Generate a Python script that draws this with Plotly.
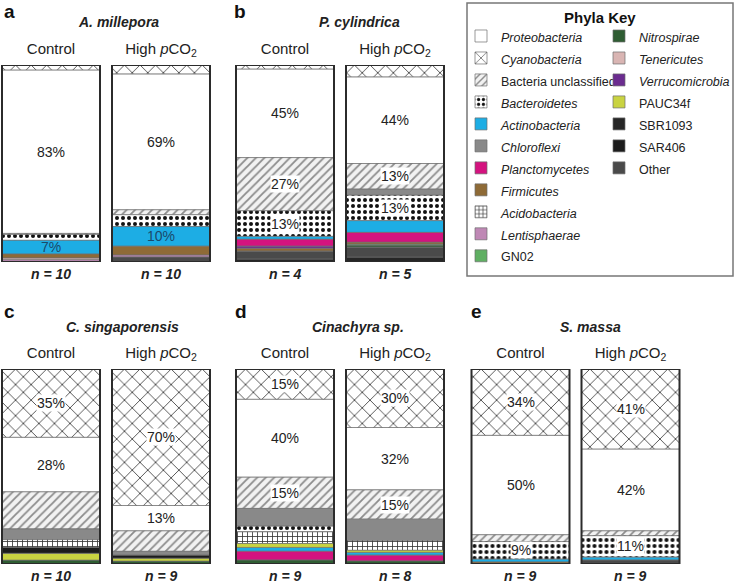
import numpy as np
import plotly.graph_objects as go

W, H = 735, 585
FONT = "Liberation Sans, Arial, Helvetica, sans-serif"

# ---------------- data ----------------
panel_letters = ["a", "b", "c", "d", "e"]
species = ["A. millepora", "P. cylindrica", "C. singaporensis", "Cinachyra sp.", "S. massa"]
treatments = ["Control", "High <i>p</i>CO<sub>2</sub>"]
n_samples = [10, 10, 4, 5, 10, 9, 9, 8, 9, 9]

# bar order: aC, aH, bC, bH, cC, cH, dC, dH, eC, eH  (percent)
proteobacteria  = [83, 69, 45, 44, 28, 13, 40, 32, 51, 42]
cyanobacteria   = [2.5, 4.5, 2, 6, 35, 70, 15.5, 30, 34, 41]
unclassified    = [0.5, 2.5, 27, 13, 19, 10.5, 16, 15, 3.5, 2.5]
bacteroidetes   = [3, 6, 13, 13, 0, 0, 3, 0, 9, 11]
actinobacteria  = [7, 10, 1.5, 6, 0, 0, 2, 1.5, 1.5, 1.5]
chloroflexi     = [0, 0, 0, 3, 5.5, 2, 9, 11, 0, 0]
planctomycetes  = [0, 0, 3.5, 5, 0, 0, 4.5, 3, 0, 0]
firmicutes      = [2, 4.5, 1.5, 1, 0, 0, 0, 0, 1, 0]
acidobacteria   = [0, 0, 0, 0, 4, 0, 6, 5, 0, 0]
lentisphaerae   = [1, 1, 0, 0, 0, 0, 0, 0, 0, 0]
gn02            = [0, 0, 0, 0.5, 0, 0, 0, 0, 0, 0]
nitrospirae     = [0, 0, 0, 1, 2, 1.5, 2, 1.5, 0, 0]
tenericutes     = [0.8, 0, 0, 0, 0, 0, 0, 0, 0, 0]
verrucomicrobia = [0, 0, 1, 0, 0, 0, 0, 0, 0, 0]
pauc34f         = [0, 0, 0, 0, 3.5, 1.5, 2, 1, 0, 0]
sbr1093         = [0, 0, 1.5, 2.5, 0, 0, 0, 0, 0, 0]
sar406          = [0, 0, 0, 0, 3, 1.5, 0, 0, 0, 0]
other           = [0.2, 2.5, 4, 5, 0, 0, 0, 0, 0, 2]

# percentage labels shown on the bars
proteobacteria_labels = ["83%", "69%", "45%", "44%", "28%", "13%", "40%", "32%", "50%", "42%"]
cyanobacteria_labels  = ["", "", "", "", "35%", "70%", "15%", "30%", "34%", "41%"]
unclassified_labels   = ["", "", "27%", "13%", "", "", "15%", "15%", "", ""]
bacteroidetes_labels  = ["", "", "13%", "13%", "", "", "", "", "9%", "11%"]
actinobacteria_labels = ["7%", "10%", "", "", "", "", "", "", "", ""]

# ---------------- styles ----------------
def solid(c):
    return dict(color=c)

def patt(shape, fg, bg, size, sol):
    return dict(color=bg, pattern=dict(shape=shape, fgcolor=fg, bgcolor=bg, size=size,
                                       solidity=sol, fillmode="replace"))

phyla = {
    "proteobacteria": ("<i>Proteobacteria</i>", proteobacteria, solid("#ffffff"), "legend"),
    "cyanobacteria": ("<i>Cyanobacteria</i>", cyanobacteria, patt("x", "#4a4a4a", "#ffffff", 11, 0.16), "legend"),
    "unclassified": ("Bacteria unclassified", unclassified, patt("/", "#8c8c8c", "#f2f2f2", 6, 0.3), "legend"),
    "bacteroidetes": ("<i>Bacteroidetes</i>", bacteroidetes, patt(".", "#111111", "#ffffff", 6, 0.35), "legend"),
    "actinobacteria": ("<i>Actinobacteria</i>", actinobacteria, solid("#1dade4"), "legend"),
    "chloroflexi": ("<i>Chloroflexi</i>", chloroflexi, solid("#898989"), "legend"),
    "planctomycetes": ("<i>Planctomycetes</i>", planctomycetes, solid("#d4137f"), "legend"),
    "firmicutes": ("<i>Firmicutes</i>", firmicutes, solid("#8e6a36"), "legend"),
    "acidobacteria": ("<i>Acidobacteria</i>", acidobacteria, patt("+", "#333333", "#ffffff", 5, 0.3), "legend"),
    "lentisphaerae": ("<i>Lentisphaerae</i>", lentisphaerae, solid("#bf88b5"), "legend"),
    "gn02": ("GN02", gn02, solid("#5faf62"), "legend"),
    "nitrospirae": ("<i>Nitrospirae</i>", nitrospirae, solid("#2f5d33"), "legend2"),
    "tenericutes": ("<i>Tenericutes</i>", tenericutes, solid("#d9b5b3"), "legend2"),
    "verrucomicrobia": ("<i>Verrucomicrobia</i>", verrucomicrobia, solid("#6b2c8f"), "legend2"),
    "pauc34f": ("PAUC34f", pauc34f, solid("#c9d341"), "legend2"),
    "sbr1093": ("SBR1093", sbr1093, solid("#262626"), "legend2"),
    "sar406": ("SAR406", sar406, solid("#1c1c1c"), "legend2"),
    "other": ("Other", other, solid("#4a4a4a"), "legend2"),
}
legend_order = list(phyla.keys())
stack_order = ["sbr1093", "other", "nitrospirae", "gn02", "lentisphaerae", "tenericutes",
               "firmicutes", "verrucomicrobia", "planctomycetes", "actinobacteria", "pauc34f",
               "sar406", "acidobacteria", "bacteroidetes", "chloroflexi", "unclassified",
               "proteobacteria", "cyanobacteria"]

vals = np.array([phyla[k][1] for k in stack_order], dtype=float)
tops = np.cumsum(vals, axis=0)
bases = {k: tops[i] - vals[i] for i, k in enumerate(stack_order)}

# panel geometry in pixels: (centre of first bar, bar top, bar bottom)
geo = [(51, 65, 262), (285, 65, 262), (51, 369, 564), (285, 369, 564), (520.5, 369, 564)]
UNIT = 110.0
BARW = 98 / UNIT

fig = go.Figure()
layout = {}

def ax(i):
    return ("x", "y") if i == 0 else (f"x{i+1}", f"y{i+1}")

for p in range(5):
    xa, ya = ax(p)
    cx0, top, bot = geo[p]
    left = max(0.0, cx0 - 55)
    right = cx0 + 165
    xr = [-(cx0 - left) / UNIT, (right - cx0) / UNIT]
    key_x = "xaxis" if p == 0 else f"xaxis{p+1}"
    key_y = "yaxis" if p == 0 else f"yaxis{p+1}"
    layout[key_x] = dict(domain=[left / W, right / W], range=xr, side="top",
                         type="category", showline=False, showgrid=False, zeroline=False,
                         ticks="", anchor=ya, ticklabelstandoff=7, automargin=False,
                         tickfont=dict(size=15, family=FONT, color="#222"),
                         fixedrange=True)
    layout[key_y] = dict(domain=[1 - bot / H, 1 - top / H], range=[0, 100], visible=False,
                         anchor=xa, fixedrange=True, automargin=False)

LEG_TXT = '<span style="font-size:12.5px">{}</span>'
shown = set()
for k in legend_order:
    name, v, style, lg = phyla[k]
    for p in range(5):
        xa, ya = ax(p)
        yv = [v[2 * p + j] if v[2 * p + j] > 0 else None for j in range(2)]
        bv = [bases[k][2 * p + j] for j in range(2)]
        marker = dict(style)
        marker["line"] = dict(color="#6e6e6e", width=0.7)
        fig.add_trace(go.Bar(x=treatments, y=yv, base=bv, width=BARW, name=LEG_TXT.format(name),
                             marker=marker, xaxis=xa, yaxis=ya, legend=lg,
                             showlegend=(k not in shown), hoverinfo="skip"))
        shown.add(k)

# outline of each bar (total = 100 %)
for p in range(5):
    xa, ya = ax(p)
    totals = [tops[-1][2 * p + j] for j in range(2)]
    fig.add_trace(go.Bar(x=treatments, y=totals, base=[0, 0], width=BARW,
                         marker=dict(color="rgba(0,0,0,0)", line=dict(color="#2b2b2b", width=2)),
                         xaxis=xa, yaxis=ya, showlegend=False, hoverinfo="skip"))

annotations = []
label_sets = [("proteobacteria", proteobacteria_labels, "#222", "rgba(255,255,255,0)"),
              ("cyanobacteria", cyanobacteria_labels, "#222", "#ffffff"),
              ("unclassified", unclassified_labels, "#222", "#ffffff"),
              ("bacteroidetes", bacteroidetes_labels, "#222", "#ffffff"),
              ("actinobacteria", actinobacteria_labels, "#1b4a6b", "rgba(0,0,0,0)")]
for k, labs, col, bg in label_sets:
    v = phyla[k][1]
    for i, t in enumerate(labs):
        if not t:
            continue
        p, j = divmod(i, 2)
        xa, ya = ax(p)
        annotations.append(dict(x=treatments[j], y=bases[k][i] + v[i] / 2, xref=xa, yref=ya,
                                text=t, showarrow=False, bgcolor=bg, borderpad=0,
                                xanchor="center", yanchor="middle",
                                font=dict(size=14, family=FONT, color=col)))

# n labels
for i, n in enumerate(n_samples):
    p, j = divmod(i, 2)
    xa, ya = ax(p)
    annotations.append(dict(x=treatments[j], y=0, xref=xa, yref=ya, yanchor="top", yshift=-2,
                            xanchor="center",
                            text=f"<b><i>n = {n}</i></b>", showarrow=False,
                            font=dict(size=14, family=FONT, color="#222")))

# species titles and panel letters (paper positions)
title_pos = [(118, 22), (359, 22), (122, 327), (358, 327), (590, 327)]
letter_pos = [(9, 11), (240, 11), (9, 311), (241, 311), (476, 311)]
for p in range(5):
    tx, ty = title_pos[p]
    annotations.append(dict(x=tx / W, y=1 - ty / H, xref="paper", yref="paper",
                            xanchor="center", yanchor="middle",
                            text=f"<b><i>{species[p]}</i></b>", showarrow=False,
                            font=dict(size=14, family=FONT, color="#222")))
    lx, ly = letter_pos[p]
    annotations.append(dict(x=lx / W, y=1 - ly / H, xref="paper", yref="paper",
                            xanchor="center", yanchor="middle",
                            text=f"<b>{panel_letters[p]}</b>", showarrow=False,
                            font=dict(size=19, family=FONT, color="#111")))

annotations.append(dict(x=600 / W, y=1 - 17 / H, xref="paper", yref="paper",
                        xanchor="center", yanchor="middle",
                        text="<b>Phyla Key</b>", showarrow=False,
                        font=dict(size=15, family=FONT, color="#111")))

fig.update_layout(
    width=W, height=H, margin=dict(l=0, r=0, t=0, b=0, autoexpand=False),
    paper_bgcolor="white", plot_bgcolor="white",
    barmode="overlay", showlegend=True,
    font=dict(family=FONT, color="#222"),
    annotations=annotations,
    shapes=[dict(type="rect", xref="paper", yref="paper",
                 x0=467 / W, x1=733 / W, y0=1 - 276 / H, y1=1 - 3 / H,
                 line=dict(color="#777", width=1.5))],
    legend=dict(x=461 / W, y=1 - 20 / H, xanchor="left", yanchor="top",
                bgcolor="rgba(0,0,0,0)", tracegroupgap=0, traceorder="normal",
                font=dict(size=14.6, family=FONT, color="#222")),
    legend2=dict(x=599 / W, y=1 - 20 / H, xanchor="left", yanchor="top",
                 bgcolor="rgba(0,0,0,0)", tracegroupgap=0, traceorder="normal",
                 font=dict(size=14.6, family=FONT, color="#222")),
    **layout,
)

fig.write_html("out.html", config={"displayModeBar": False},
               post_script="document.body.style.margin='0';document.body.style.overflow='hidden';")
